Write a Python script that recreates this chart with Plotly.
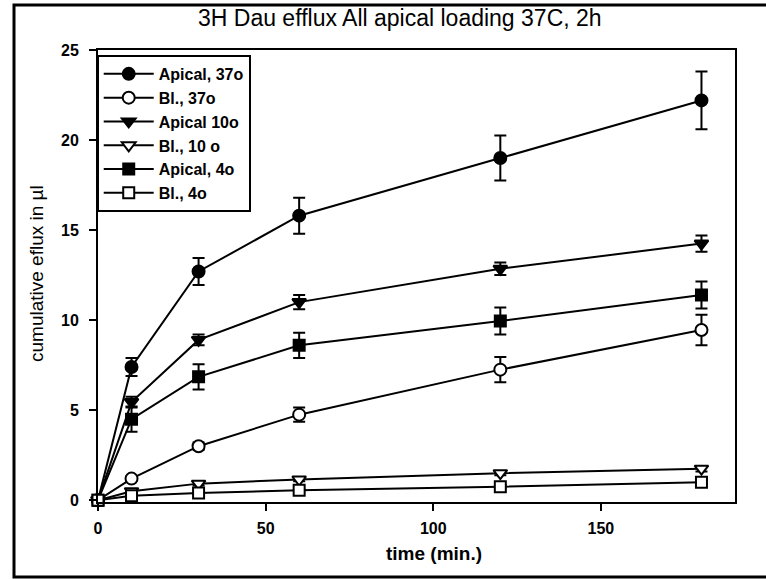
import plotly.graph_objects as go

time_min = [0, 10, 30, 60, 120, 180]

apical_37 = [0, 7.4, 12.7, 15.8, 19.0, 22.2]
apical_37_err = [0, 0.5, 0.75, 1.0, 1.25, 1.6]
bl_37 = [0, 1.2, 3.0, 4.75, 7.25, 9.45]
bl_37_err = [0, 0.12, 0.2, 0.4, 0.7, 0.85]
apical_10 = [0, 5.45, 8.9, 11.0, 12.85, 14.25]
apical_10_err = [0, 0.3, 0.3, 0.4, 0.35, 0.45]
bl_10 = [0, 0.5, 0.92, 1.15, 1.5, 1.75]
bl_10_err = [0, 0.08, 0.1, 0.1, 0.12, 0.15]
apical_4 = [0, 4.5, 6.85, 8.6, 9.95, 11.4]
apical_4_err = [0, 0.7, 0.7, 0.7, 0.75, 0.75]
bl_4 = [0, 0.25, 0.4, 0.55, 0.75, 1.0]
bl_4_err = [0, 0.05, 0.08, 0.08, 0.1, 0.12]

series = [
    ("Apical, 37o", apical_37, apical_37_err, "circle", "black"),
    ("Bl., 37o", bl_37, bl_37_err, "circle", "white"),
    ("Apical 10o", apical_10, apical_10_err, "triangle-down", "black"),
    ("Bl., 10 o", bl_10, bl_10_err, "triangle-down", "white"),
    ("Apical, 4o", apical_4, apical_4_err, "square", "black"),
    ("Bl., 4o", bl_4, bl_4_err, "square", "white"),
]

title_text = "3H Dau efflux All apical loading 37C, 2h"
x_title = "time (min.)"
y_title = "cumulative eflux in µl"
x_ticks = [0, 50, 100, 150]
y_ticks = [0, 5, 10, 15, 20, 25]

FONT = "Liberation Sans"

fig = go.Figure()
for name, vals, errs, sym, fill in series:
    fig.add_trace(go.Scatter(
        x=time_min, y=vals, name=name, mode="lines+markers",
        line=dict(color="black", width=2),
        marker=dict(symbol=sym, size=12 if sym != "square" else 11, color=fill,
                    line=dict(color="black", width=2)),
        error_y=dict(type="data", array=errs, visible=True, color="black",
                     thickness=2, width=6),
        cliponaxis=False,
    ))

OFF = 0  # body margin removed via post_script
W, H = 766, 579
PL, PR, PT, PB = 98, 735, 50, 502
L = PL - OFF
T = PT - OFF
R = W + OFF - PR
B = H + OFF - PB
pw, ph = PR - PL, PB - PT

def px_x(p):
    return (p - PL) / pw

def px_y(p):
    return (PB - p) / ph

fig.add_shape(type="rect", xref="paper", yref="paper",
              x0=px_x(14), x1=px_x(790), y0=px_y(577), y1=px_y(5),
              line=dict(color="black", width=3), layer="below")

fig.add_annotation(text=title_text, xref="paper", yref="paper",
                   x=px_x(400), y=px_y(18), showarrow=False,
                   xanchor="center", yanchor="middle",
                   font=dict(family=FONT, size=23, color="black"))
fig.add_annotation(text=x_title, xref="paper", yref="paper",
                   x=px_x(434), y=px_y(553), showarrow=False,
                   xanchor="center", yanchor="middle",
                   font=dict(family=FONT, size=19, color="black", weight="bold"))
fig.add_annotation(text=y_title, xref="paper", yref="paper",
                   x=px_x(36), y=px_y(274), showarrow=False, textangle=-90,
                   xanchor="center", yanchor="middle",
                   font=dict(family=FONT, size=19, color="black"))

fig.update_xaxes(range=[0, 190], tickvals=x_ticks, ticks="outside", ticklen=7,
                 tickwidth=2, tickcolor="black", showline=True, linewidth=2,
                 linecolor="black", mirror=True, showgrid=False, zeroline=False,
                 ticklabelstandoff=4,
                 tickfont=dict(family=FONT, size=16, color="black", weight="bold"))
fig.update_yaxes(range=[-0.1, 25], tickvals=y_ticks, ticks="outside", ticklen=7,
                 tickwidth=2, tickcolor="black", showline=True, linewidth=2,
                 linecolor="black", mirror=True, showgrid=False, zeroline=False,
                 ticklabelstandoff=7,
                 tickfont=dict(family=FONT, size=16, color="black", weight="bold"))

fig.update_layout(
    width=W, height=H,
    margin=dict(l=L, r=R, t=T, b=B, pad=0),
    plot_bgcolor="white", paper_bgcolor="white",
    legend=dict(x=-0.002, y=0.989, xanchor="left", yanchor="top",
                bordercolor="black", borderwidth=2, bgcolor="white",
                font=dict(family=FONT, size=16, color="black", weight="bold"),
                tracegroupgap=0, itemwidth=50),
    showlegend=True,
)

fig.write_html("out.html", config={"displayModeBar": False},
               post_script="document.body.style.margin='0px';document.body.style.overflow='hidden';")
